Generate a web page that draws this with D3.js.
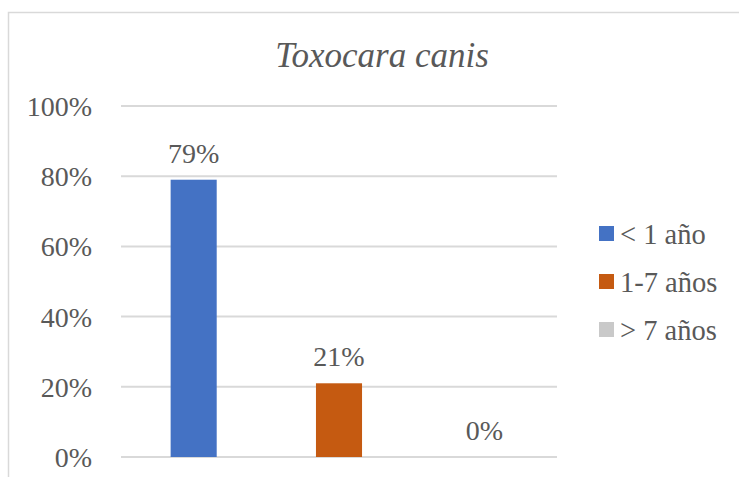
<!DOCTYPE html>
<html>
<head>
<meta charset="utf-8">
<script src="https://cdn.jsdelivr.net/npm/d3@7"></script>
<style>
  html, body { margin: 0; padding: 0; background: #fff; }
  svg { display: block; }
</style>
</head>
<body>
<svg id="chart" width="739" height="477"></svg>
<script>
// Chart data
const title = "Toxocara canis";
const categories = ["< 1 año", "1-7 años", "> 7 años"];
const values = [0.79, 0.21, 0.0];
const colors = ["#4472C4", "#C55A11", "#C9C9C9"];
const yTicks = [0, 0.2, 0.4, 0.6, 0.8, 1.0];

const FONT = "'Liberation Serif', monospace";

const svg = d3.select("#chart");

const plot = { left: 121, right: 557, top: 106, bottom: 457 };

// Outer chart frame
svg.append("rect")
  .attr("x", 8.5).attr("y", 12.5)
  .attr("width", 780).attr("height", 500)
  .attr("fill", "none")
  .attr("stroke", "#D9D9D9")
  .attr("stroke-width", 1.5);

const x = d3.scaleBand()
  .domain(categories)
  .range([plot.left, plot.right])
  .paddingInner(0.683)
  .paddingOuter(0.3415);

const y = d3.scaleLinear()
  .domain([0, 1])
  .range([plot.bottom, plot.top]);

function label(g, tx, ty, str, size, anchor, italic) {
  return g.append("text")
    .attr("x", tx).attr("y", ty)
    .attr("text-anchor", anchor)
    .style("font-family", FONT)
    .style("fill", "#595959")
    .style("font-size", size + "px")
    .style("font-style", italic ? "italic" : "normal")
    .text(str);
}

// Gridlines
const gridG = svg.append("g");
gridG.selectAll("line")
  .data(yTicks)
  .join("line")
  .attr("x1", plot.left).attr("x2", plot.right)
  .attr("y1", d => y(d)).attr("y2", d => y(d))
  .attr("stroke", "#D9D9D9").attr("stroke-width", 2);

// Tick labels
const tickG = svg.append("g");
yTicks.forEach(d => label(tickG, 92, y(d) + 10, d3.format(".0%")(d), 28, "end", false));

// Bars
svg.append("g").selectAll("rect")
  .data(values)
  .join("rect")
  .attr("x", (d, i) => x(categories[i]))
  .attr("y", d => y(d))
  .attr("width", x.bandwidth())
  .attr("height", d => y(0) - y(d))
  .attr("fill", (d, i) => colors[i]);

// Value labels
const valG = svg.append("g");
values.forEach((v, i) => {
  label(valG, x(categories[i]) + x.bandwidth() / 2, y(v) - 17, d3.format(".0%")(v), 28, "middle", false);
});

// Title
label(svg, 382, 67, title, 35, "middle", true);

// Legend
const legend = svg.append("g");
categories.forEach((c, i) => {
  const cy = 233.5 + i * 48;
  legend.append("rect")
    .attr("x", 599).attr("y", cy - 7.5)
    .attr("width", 15).attr("height", 15)
    .attr("fill", colors[i]);
  label(legend, 620, cy + 10, c, 28.5, "start", false);
});
</script>
</body>
</html>
